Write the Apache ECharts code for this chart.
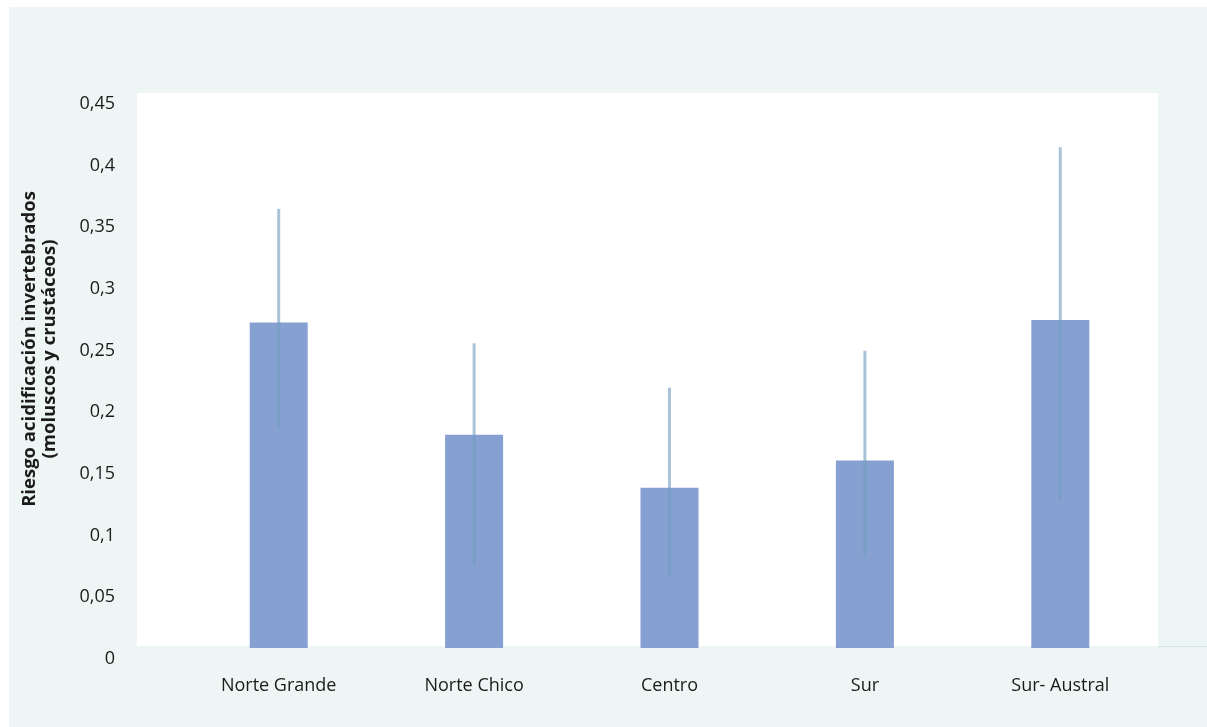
<!DOCTYPE html>
<html>
<head>
<meta charset="utf-8">
<title>Riesgo acidificación invertebrados</title>
<script src="https://cdn.jsdelivr.net/npm/echarts@6/dist/echarts.min.js"></script>
<style>
  html, body { margin: 0; padding: 0; background: #ffffff; }
  #chart { width: 1207px; height: 727px; }
</style>
</head>
<body>
<div id="chart"></div>
<script>
// Zonas y riesgo medio con su rango (barra de error)
const categories = ['Norte Grande', 'Norte Chico', 'Centro', 'Sur', 'Sur- Austral'];
const riskMean = [0.264, 0.173, 0.130, 0.152, 0.266];
const riskHigh = [0.356, 0.247, 0.211, 0.241, 0.406];
const riskLow  = [0.177, 0.067, 0.058, 0.073, 0.119];
const yTickLabels = ['0', '0,05', '0,1', '0,15', '0,2', '0,25', '0,3', '0,35', '0,4', '0,45'];

const FONT = '"Open Sans", "Noto Sans", sans-serif';
const TEXT = '#1b1b1b';

const chart = echarts.init(document.getElementById('chart'), null, { renderer: 'canvas' });

const errData = categories.map((c, i) => [i, riskLow[i], riskHigh[i]]);

chart.setOption({
  backgroundColor: '#ffffff',
  animation: false,
  graphic: [
    { type: 'rect', z: -10, shape: { x: 9, y: 7, width: 1198, height: 720 }, style: { fill: '#edf6f4' }, silent: true },
    { type: 'rect', z: -9, shape: { x: 137, y: 93, width: 1021, height: 553 }, style: { fill: '#ffffff' }, silent: true },
    { type: 'line', z: -8, shape: { x1: 1158, y1: 646.5, x2: 1207, y2: 646.5 }, style: { stroke: '#d4e9e4', lineWidth: 1 }, silent: true },
    {
      type: 'text', z: 10,
      x: 40, y: 349, rotation: Math.PI / 2,
      style: {
        text: 'Riesgo acidificación invertebrados\n(moluscos y crustáceos)',
        font: 'bold 18.5px ' + FONT,
        fill: TEXT,
        align: 'center',
        verticalAlign: 'middle',
        lineHeight: 20
      }
    }
  ],
  grid: { left: 181, right: 49, top: 93, bottom: 79, containLabel: false },
  xAxis: {
    type: 'category',
    data: categories,
    axisLine: { show: false },
    axisTick: { show: false },
    axisLabel: { color: TEXT, fontFamily: FONT, fontSize: 18, margin: 29 },
    splitLine: { show: false }
  },
  yAxis: {
    type: 'value',
    min: 0, max: 0.45, interval: 0.05,
    axisLine: { show: false },
    axisTick: { show: false },
    splitLine: { show: false },
    axisLabel: {
      color: TEXT, fontFamily: FONT, fontSize: 18, margin: 66,
      verticalAlign: 'top',
      lineHeight: 22,
      formatter: v => yTickLabels[Math.round(v / 0.05)]
    }
  },
  series: [
    {
      type: 'bar',
      data: riskMean,
      barWidth: 58,
      itemStyle: { color: '#87a0d2' },
      z: 2
    },
    {
      type: 'custom',
      data: errData,
      z: 3,
      renderItem: (params, api) => {
        const x = api.value(0);
        const lo = api.coord([x, api.value(1)]);
        const hi = api.coord([x, api.value(2)]);
        return {
          type: 'line',
          shape: { x1: lo[0], y1: lo[1], x2: hi[0], y2: hi[1] },
          style: { stroke: 'rgba(115,158,190,0.62)', lineWidth: 3 }
        };
      }
    }
  ]
});
</script>
</body>
</html>
